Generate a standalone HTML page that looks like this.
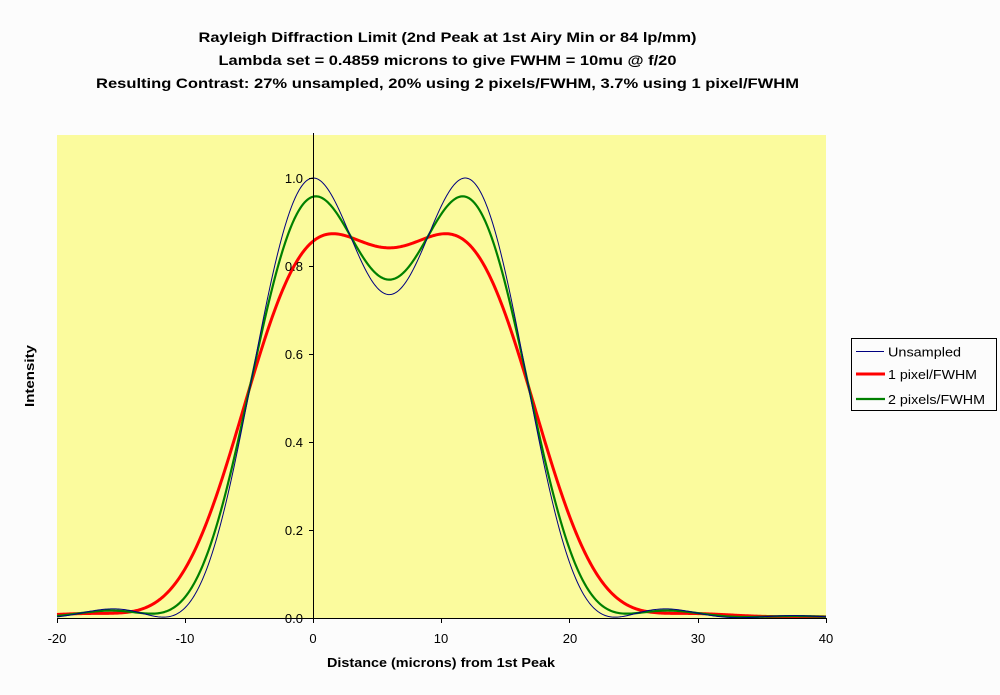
<!DOCTYPE html>
<html>
<head>
<meta charset="utf-8">
<style>
html,body{margin:0;padding:0;background:#fcfcfc;}
svg{display:block;}
text{font-family:"Liberation Sans",Arial,sans-serif;fill:#000;}
</style>
</head>
<body>
<svg id="s" width="1000" height="695" viewBox="0 0 1000 695" xmlns="http://www.w3.org/2000/svg">
<rect x="0" y="0" width="1000" height="695" fill="#fcfcfc"/>
<!-- title -->
<text x="447.5" y="42" font-size="14" font-weight="bold" text-anchor="middle" textLength="498" lengthAdjust="spacingAndGlyphs">Rayleigh Diffraction Limit (2nd Peak at 1st Airy Min or 84 lp/mm)</text>
<text x="447.5" y="65" font-size="14" font-weight="bold" text-anchor="middle" textLength="458" lengthAdjust="spacingAndGlyphs">Lambda set = 0.4859 microns to give FWHM = 10mu @ f/20</text>
<text x="447.5" y="88" font-size="14" font-weight="bold" text-anchor="middle" textLength="703" lengthAdjust="spacingAndGlyphs">Resulting Contrast: 27% unsampled, 20% using 2 pixels/FWHM, 3.7% using 1 pixel/FWHM</text>
<!-- plot area -->
<rect x="57" y="135" width="769" height="483" fill="#fbfb9d"/>
<!-- curves -->
<path id="pr" d="" fill="none" stroke="#ff0000" stroke-width="3" stroke-linejoin="round"/>
<path id="pg" d="" fill="none" stroke="#008000" stroke-width="2.2" stroke-linejoin="round"/>
<path id="pb" d="" fill="none" stroke="#000080" stroke-width="1" stroke-linejoin="round"/>
<!-- axes -->
<line x1="57" y1="618.5" x2="826" y2="618.5" stroke="#000" stroke-width="1"/>
<line x1="313.5" y1="133" x2="313.5" y2="618.5" stroke="#000" stroke-width="1"/>
<g stroke="#000" stroke-width="1">
<line x1="57.5" y1="618" x2="57.5" y2="623"/>
<line x1="185.5" y1="618" x2="185.5" y2="623"/>
<line x1="313.5" y1="618" x2="313.5" y2="623"/>
<line x1="441.5" y1="618" x2="441.5" y2="623"/>
<line x1="569.5" y1="618" x2="569.5" y2="623"/>
<line x1="698.5" y1="618" x2="698.5" y2="623"/>
<line x1="826.5" y1="618" x2="826.5" y2="623"/>
<line x1="309" y1="618.5" x2="313" y2="618.5"/>
<line x1="309" y1="530.5" x2="313" y2="530.5"/>
<line x1="309" y1="442.5" x2="313" y2="442.5"/>
<line x1="309" y1="354.5" x2="313" y2="354.5"/>
<line x1="309" y1="266.5" x2="313" y2="266.5"/>
<line x1="309" y1="178.5" x2="313" y2="178.5"/>
</g>
<!-- x tick labels -->
<g font-size="13" text-anchor="middle">
<text x="57" y="643">-20</text>
<text x="185" y="643">-10</text>
<text x="313" y="643">0</text>
<text x="441" y="643">10</text>
<text x="570" y="643">20</text>
<text x="698" y="643">30</text>
<text x="826" y="643">40</text>
</g>
<!-- y tick labels -->
<g font-size="13" text-anchor="end">
<text x="303" y="623">0.0</text>
<text x="303" y="535">0.2</text>
<text x="303" y="447">0.4</text>
<text x="303" y="359">0.6</text>
<text x="303" y="271">0.8</text>
<text x="303" y="183">1.0</text>
</g>
<!-- axis titles -->
<text x="441" y="667" font-size="13" font-weight="bold" text-anchor="middle" textLength="228" lengthAdjust="spacingAndGlyphs">Distance (microns) from 1st Peak</text>
<text transform="translate(34,376) rotate(-90)" font-size="13" font-weight="bold" text-anchor="middle" textLength="62" lengthAdjust="spacingAndGlyphs">Intensity</text>
<!-- legend -->
<rect x="851.5" y="338.5" width="145" height="72" fill="#fcfcfc" stroke="#000" stroke-width="1"/>
<line x1="856" y1="351.5" x2="884" y2="351.5" stroke="#000080" stroke-width="1"/>
<line x1="856" y1="374" x2="885" y2="374" stroke="#ff0000" stroke-width="3"/>
<line x1="856" y1="399" x2="885" y2="399" stroke="#008000" stroke-width="2.2"/>
<g font-size="13">
<text x="888" y="356.5" textLength="73" lengthAdjust="spacingAndGlyphs">Unsampled</text>
<text x="888" y="379" textLength="89" lengthAdjust="spacingAndGlyphs">1 pixel/FWHM</text>
<text x="888" y="404" textLength="97" lengthAdjust="spacingAndGlyphs">2 pixels/FWHM</text>
</g>
</svg>
<script>
(function(){
function J1(x){
  var ax=Math.abs(x),y,a1,a2,z,xx,ans;
  if(ax<8){
    y=x*x;
    a1=x*(72362614232.0+y*(-7895059235.0+y*(242396853.1+y*(-2972611.439+y*(15704.48260+y*(-30.16036606))))));
    a2=144725228442.0+y*(2300535178.0+y*(18583304.74+y*(99447.43394+y*(376.9991397+y*1.0))));
    return a1/a2;
  }
  z=8/ax;y=z*z;xx=ax-2.356194491;
  a1=1.0+y*(0.183105e-2+y*(-0.3516396496e-4+y*(0.2457520174e-5+y*(-0.240337019e-6))));
  a2=0.04687499995+y*(-0.2002690873e-3+y*(0.8449199096e-5+y*(-0.88228987e-6+y*0.105787412e-6)));
  ans=Math.sqrt(0.636619772/ax)*(Math.cos(xx)*a1-z*Math.sin(xx)*a2);
  return x<0?-ans:ans;
}
var LN=0.4859*20;
var D=3.831706*LN/Math.PI;
function A(r){
  var x=Math.PI*r/LN;
  if(Math.abs(x)<1e-7) return 1;
  var v=2*J1(x)/x; return v*v;
}
function U(r){return A(r)+A(r-D);}
function S(r,w){
  var n=120,s=0;
  for(var i=0;i<n;i++){ s+=U(r-w/2+(i+0.5)*w/n); }
  return s/n;
}
function X(v){return 57+(v+20)*769/60;}
function Y(v){return 618-v*440;}
function build(f){
  var d="";
  for(var r=-20;r<=40.0001;r+=0.1){
    d+=(d?"L":"M")+X(r).toFixed(2)+","+Y(f(r)).toFixed(2);
  }
  return d;
}
document.getElementById("pb").setAttribute("d",build(U));
document.getElementById("pr").setAttribute("d",build(function(r){return S(r,10);}));
document.getElementById("pg").setAttribute("d",build(function(r){return S(r,5);}));
})();
</script>
</body>
</html>
